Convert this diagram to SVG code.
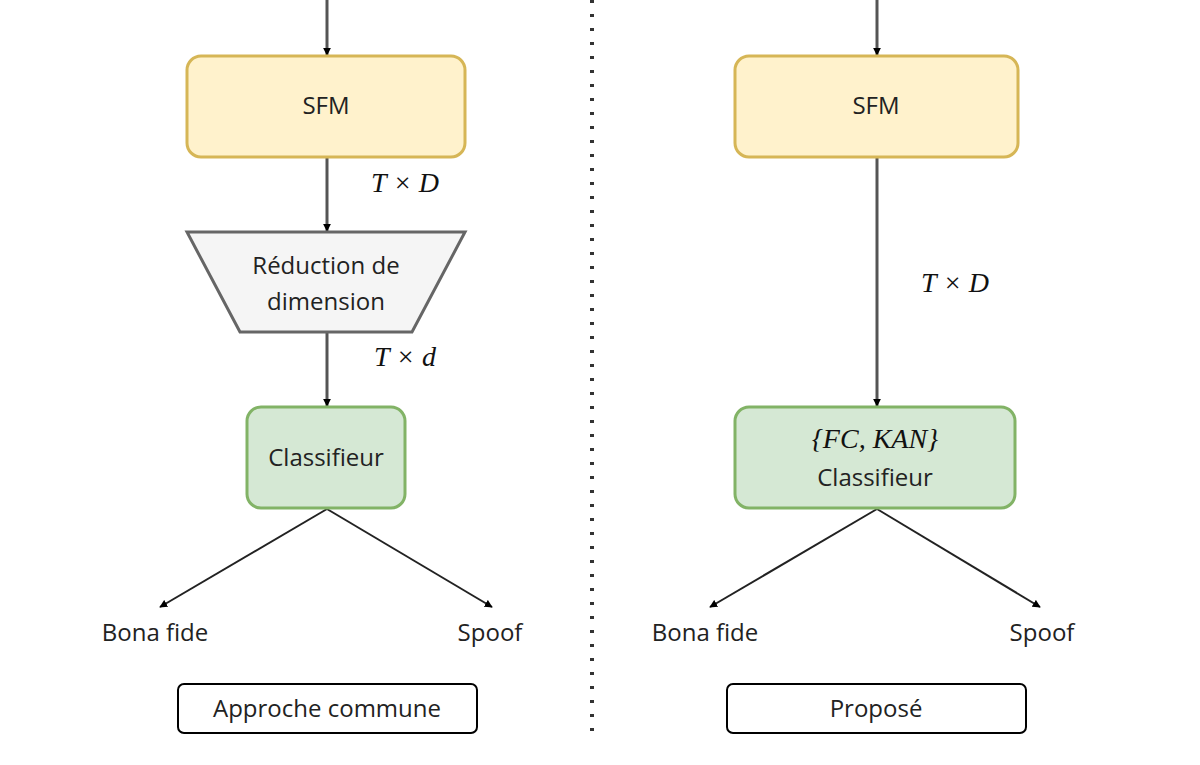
<svg xmlns="http://www.w3.org/2000/svg" width="1200" height="765" viewBox="0 0 1200 765">
<defs>
<marker id="ah" viewBox="0 0 10 10" refX="9" refY="5" markerWidth="8" markerHeight="8" markerUnits="userSpaceOnUse" orient="auto"><path d="M0,0 L10,5 L0,10 z" fill="#000"/></marker>
<style>
.sfm{fill:#fff2cc;stroke:#d6b656;stroke-width:3}
.cls{fill:#d5e8d4;stroke:#82b366;stroke-width:3}
.red{fill:#f5f5f5;stroke:#666;stroke-width:3}
.lbl{fill:#fff;stroke:#000;stroke-width:2}
.t{font-family:"Open Sans","Liberation Sans",sans-serif;font-size:24px;fill:#222;text-anchor:middle}
.m{font-family:"Liberation Serif",serif;font-style:italic;font-size:28px;fill:#111;text-anchor:middle}
.c{stroke:#222;stroke-width:2;fill:none;marker-end:url(#ah)}
.cg{stroke:#555;stroke-width:3;fill:none;marker-end:url(#ah)}
</style>
</defs>
<rect width="1200" height="765" fill="#fff"/>
<g id="connectors">
<line class="cg" x1="327" y1="0" x2="327" y2="55"/>
<line class="cg" x1="327" y1="158" x2="327" y2="231"/>
<line class="cg" x1="327" y1="333" x2="327" y2="406"/>
<line class="c" x1="327" y1="509" x2="160" y2="607"/>
<line class="c" x1="327" y1="509" x2="492" y2="607"/>
<line class="cg" x1="877" y1="0" x2="877" y2="55"/>
<line class="cg" x1="877" y1="158" x2="877" y2="406"/>
<line class="c" x1="877" y1="509" x2="710" y2="607"/>
<line class="c" x1="877" y1="509" x2="1040" y2="607"/>
<line x1="592" y1="0" x2="592" y2="740" stroke="#333" stroke-width="4" stroke-dasharray="3 11"/>
</g>
<g id="sfm-left"><rect class="sfm" x="187" y="56" width="278" height="101" rx="14"/><text class="t" x="326" y="114">SFM</text></g>
<text class="m" x="405" y="192">T × D</text>
<g id="reduction"><polygon class="red" points="187,232 465,232 412,332 240,332"/><text class="t" x="326" y="274">Réduction de</text><text class="t" x="326" y="310">dimension</text></g>
<text class="m" x="405" y="366">T × d</text>
<g id="cls-left"><rect class="cls" x="247" y="407" width="158" height="101" rx="14"/><text class="t" x="326" y="466">Classifieur</text></g>
<text class="t" x="155" y="641">Bona fide</text>
<text class="t" x="490" y="641">Spoof</text>
<g id="label-left"><rect class="lbl" x="178" y="684" width="299" height="49" rx="6"/><text class="t" x="327" y="717">Approche commune</text></g>
<g id="sfm-right"><rect class="sfm" x="735" y="56" width="283" height="101" rx="14"/><text class="t" x="876" y="114">SFM</text></g>
<text class="m" x="955" y="292">T × D</text>
<g id="cls-right"><rect class="cls" x="735" y="407" width="280" height="101" rx="14"/><text class="m" x="875" y="448">{FC, KAN}</text><text class="t" x="875" y="486">Classifieur</text></g>
<text class="t" x="705" y="641">Bona fide</text>
<text class="t" x="1042" y="641">Spoof</text>
<g id="label-right"><rect class="lbl" x="727" y="684" width="299" height="49" rx="6"/><text class="t" x="876" y="717">Proposé</text></g>
</svg>
